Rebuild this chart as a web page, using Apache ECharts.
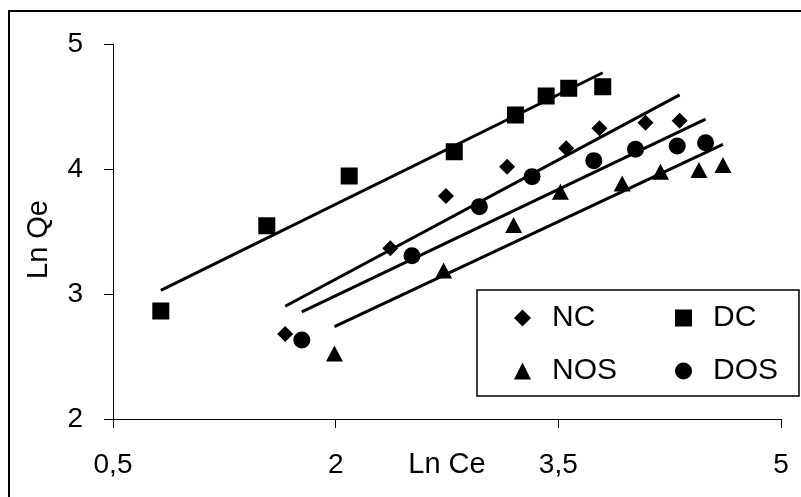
<!DOCTYPE html>
<html><head><meta charset="utf-8">
<script src="https://cdn.jsdelivr.net/npm/echarts@6/dist/echarts.min.js"></script>
<style>html,body{margin:0;padding:0;background:#fff}#c{width:801px;height:497px}</style>
</head><body><div id="c"></div>
<script>
const ncX  = [1.660, 2.368, 2.743, 3.155, 3.553, 3.777, 4.087, 4.317];
const ncY  = [2.680, 3.366, 3.784, 4.018, 4.166, 4.326, 4.370, 4.386];
const dcX  = [0.822, 1.536, 2.091, 2.799, 3.211, 3.418, 3.570, 3.799];
const dcY  = [2.864, 3.546, 3.944, 4.138, 4.432, 4.584, 4.646, 4.658];
const nosX = [1.992, 2.727, 3.199, 3.514, 3.930, 4.188, 4.447, 4.609];
const nosY = [2.524, 3.188, 3.552, 3.818, 3.885, 3.978, 3.992, 4.032];
const dosX = [1.772, 2.514, 2.968, 3.323, 3.739, 4.020, 4.301, 4.492];
const dosY = [2.632, 3.306, 3.699, 3.939, 4.067, 4.158, 4.184, 4.210];
const xTicks = [0.5, 2, 3.5, 5];
const yTicks = [2, 3, 4, 5];
const names = ['NC', 'DC', 'NOS', 'DOS'];

const FONT = 'Liberation Sans, Arial, sans-serif';

function pairs(xs, ys) { return xs.map((x, i) => [x, ys[i]]); }
function fit(xs, ys) {
  const n = xs.length;
  const mx = xs.reduce((a, b) => a + b, 0) / n;
  const my = ys.reduce((a, b) => a + b, 0) / n;
  let sxy = 0, sxx = 0;
  for (let i = 0; i < n; i++) { sxy += (xs[i] - mx) * (ys[i] - my); sxx += (xs[i] - mx) ** 2; }
  const b = sxy / sxx, a = my - b * mx;
  const x0 = Math.min(...xs), x1 = Math.max(...xs);
  return [[x0, a + b * x0], [x1, a + b * x1]];
}
const fmt = v => String(v).replace('.', ',');

const scatter = (name, xs, ys, symbol, size) => ({
  name, type: 'scatter', data: pairs(xs, ys), symbol, symbolSize: size,
  itemStyle: { color: '#000', opacity: 1 }, z: 3
});
const trend = (xs, ys) => ({
  type: 'line', data: fit(xs, ys), showSymbol: false, symbol: 'none',
  lineStyle: { color: '#000', width: 3 }, z: 2, silent: true
});

const legendText = { fontSize: 30, lineHeight: 30, color: '#000', fontFamily: FONT, padding: [0, 0, 0, 16] };

const chart = echarts.init(document.getElementById('c'), null, { renderer: 'canvas' });
chart.setOption({
  animation: false,
  backgroundColor: '#fff',
  textStyle: { fontFamily: FONT, color: '#000' },
  grid: { left: 113, top: 44, right: 20, bottom: 78, containLabel: false, outerBoundsMode: 'none' },
  xAxis: {
    type: 'value', min: xTicks[0], max: xTicks[xTicks.length - 1], interval: xTicks[1] - xTicks[0],
    name: 'Ln Ce', nameLocation: 'middle', nameGap: 31, nameMoveOverlap: false,
    nameTextStyle: { fontSize: 29, color: '#000', fontFamily: FONT },
    axisLine: { show: true, onZero: false, lineStyle: { color: '#000', width: 1 } },
    axisTick: { show: true, inside: false, length: 9, lineStyle: { color: '#000' } },
    axisLabel: { fontSize: 28, color: '#000', margin: 32, formatter: fmt, fontFamily: FONT },
    splitLine: { show: false }
  },
  yAxis: {
    type: 'value', min: yTicks[0], max: yTicks[yTicks.length - 1], interval: 1,
    name: 'Ln Qe', nameLocation: 'middle', nameGap: 60, nameRotate: 90, nameMoveOverlap: false,
    nameTextStyle: { fontSize: 29, color: '#000', fontFamily: FONT, padding: [0, 16, 0, 0] },
    axisLine: { show: true, onZero: false, lineStyle: { color: '#000', width: 1 } },
    axisTick: { show: true, inside: false, length: 9, lineStyle: { color: '#000' } },
    axisLabel: { fontSize: 28, color: '#000', margin: 30, formatter: fmt, fontFamily: FONT },
    splitLine: { show: false }
  },
  legend: [
    { data: [names[0], names[2]], orient: 'vertical', left: 514, top: 303, itemWidth: 17, itemHeight: 17,
      itemGap: 23, padding: 0, selectedMode: false, textStyle: legendText },
    { data: [names[1], names[3]], orient: 'vertical', left: 675, top: 303, itemWidth: 17, itemHeight: 17,
      itemGap: 23, padding: 0, selectedMode: false, textStyle: legendText }
  ],
  graphic: [
    { type: 'rect', shape: { x: 9, y: 11, width: 900, height: 600 }, style: { fill: 'none', stroke: '#000', lineWidth: 2 }, silent: true },
    { type: 'rect', shape: { x: 477, y: 290, width: 322, height: 106 }, style: { fill: 'none', stroke: '#000', lineWidth: 1.5 }, silent: true, z: -1 }
  ],
  series: [
    trend(dcX, dcY), trend(ncX, ncY), trend(dosX, dosY), trend(nosX, nosY),
    scatter(names[0], ncX, ncY, 'diamond', [16, 16]),
    scatter(names[1], dcX, dcY, 'rect', [17, 17]),
    scatter(names[2], nosX, nosY, 'triangle', [17, 16]),
    scatter(names[3], dosX, dosY, 'circle', 17)
  ]
});
</script></body></html>
